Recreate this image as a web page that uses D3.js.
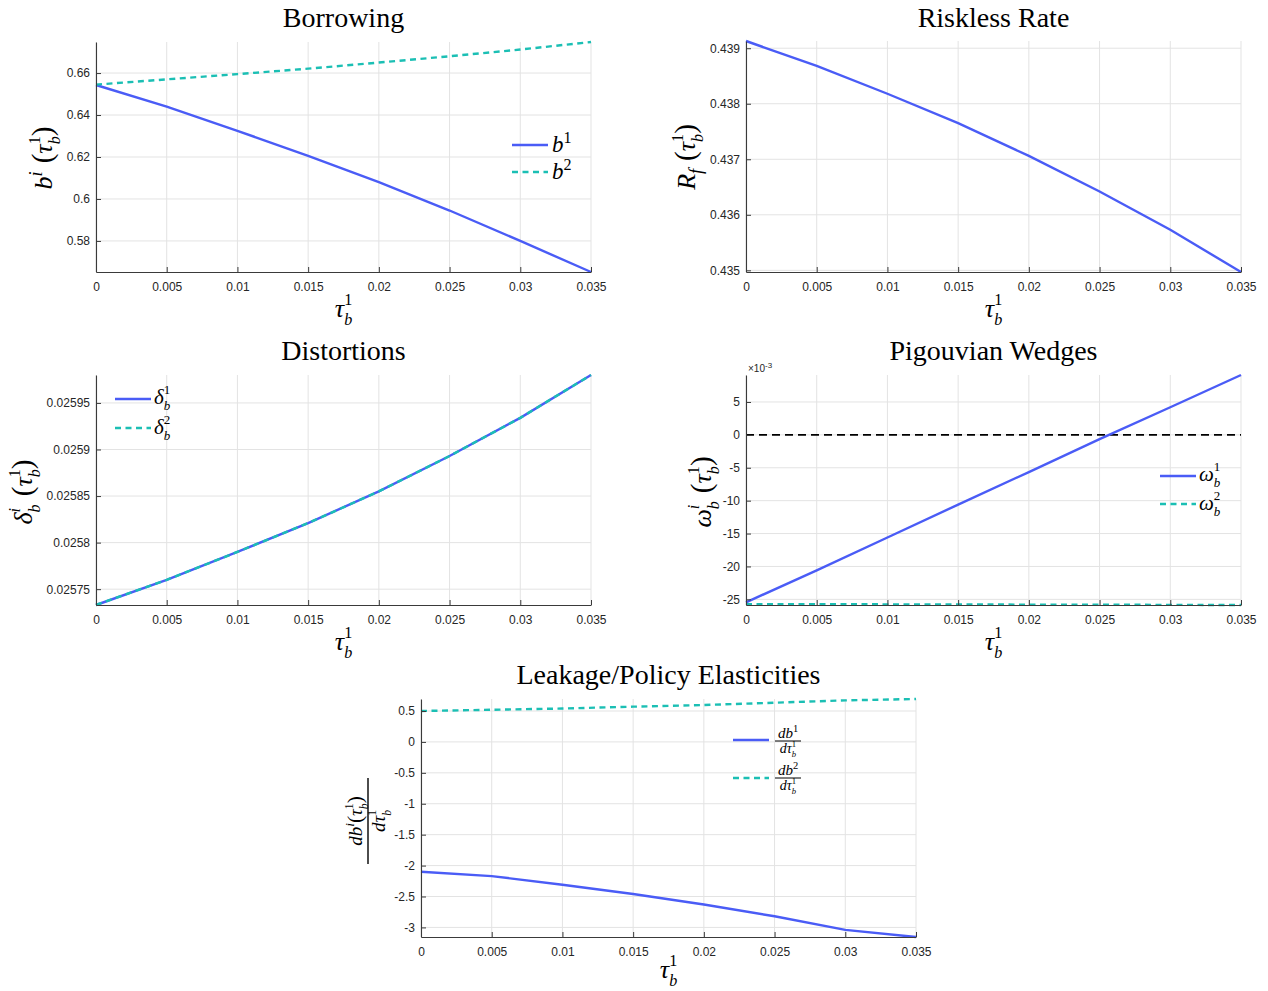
<!DOCTYPE html>
<html><head><meta charset="utf-8">
<script src="https://cdn.jsdelivr.net/npm/d3@7"></script>
<style>
body{margin:0;background:#fff;}
svg{display:block;}
.tick text{font-family:"Liberation Sans",Arial,sans-serif;font-size:12px;fill:#262626;}
</style></head>
<body>
<svg id="chart" width="1268" height="991"></svg>
<script>
// ---------- DATA ----------
const tau = [0, 0.005, 0.01, 0.015, 0.02, 0.025, 0.03, 0.035];
const xTicks = [0, 0.005, 0.01, 0.015, 0.02, 0.025, 0.03, 0.035];

const borrow1 = [0.6543, 0.6440, 0.6325, 0.6205, 0.6080, 0.5945, 0.5800, 0.5652];
const borrow2 = [0.6545, 0.6570, 0.6595, 0.6621, 0.6650, 0.6680, 0.6712, 0.6748];
const borrowTicks = [0.58, 0.6, 0.62, 0.64, 0.66];

const riskless = [0.43913, 0.43868, 0.43818, 0.43765, 0.43706, 0.43642, 0.43573, 0.43497];
const risklessTicks = [0.435, 0.436, 0.437, 0.438, 0.439];

const distort1 = [0.025733, 0.025760, 0.025790, 0.025821, 0.025855, 0.025893, 0.025934, 0.025980];
const distort2 = [0.025733, 0.025760, 0.025790, 0.025821, 0.025855, 0.025893, 0.025934, 0.025980];
const distortTicks = [0.02575, 0.0258, 0.02585, 0.0259, 0.02595];

// Pigouvian wedges, in units of 1e-3
const wedge1 = [-25.45, -20.6, -15.6, -10.6, -5.65, -0.65, 4.2, 9.1];
const wedge2 = [-25.72, -25.74, -25.76, -25.78, -25.80, -25.82, -25.84, -25.86];
const wedgeRef = [0, 0];
const wedgeTicks = [-25, -20, -15, -10, -5, 0, 5];

const elast1 = [-2.10, -2.17, -2.31, -2.46, -2.63, -2.82, -3.04, -3.155];
const elast2 = [0.50, 0.52, 0.54, 0.57, 0.597, 0.634, 0.672, 0.694];
const elastTicks = [-3, -2.5, -2, -1.5, -1, -0.5, 0, 0.5];

// ---------- STYLE ----------
const BLUE = "#4a5cf6", TEAL = "#1bbfb4";
const SERIF = "'Liberation Serif','Times New Roman',serif";
const svg = d3.select("#chart");
const fmt = v => String(+v.toPrecision(6));

// math text helper
function mathText(parent, items, size, anchor) {
  const g = parent.append("g").attr("font-family", SERIF).attr("fill", "#000");
  let cx = 0;
  items.forEach(it => {
    const sz = size * (it.scale || 1);
    const t = g.append("text").attr("x", cx).attr("y", it.dy || 0)
      .attr("font-size", sz).attr("font-style", it.up ? "normal" : "italic").text(it.t);
    cx += t.node().getComputedTextLength() + (it.kern || 0);
    const stacked = it.sub && it.sup;
    const ss = stacked ? 0.62 : 0.7;
    let sw = 0;
    if (it.sub) {
      const s = g.append("text").attr("x", cx).attr("y", (stacked ? 0.3 : 0.25) * size)
        .attr("font-size", ss * size).attr("font-style", it.subUp ? "normal" : "italic").text(it.sub);
      sw = Math.max(sw, s.node().getComputedTextLength());
    }
    if (it.sup) {
      const s = g.append("text").attr("x", cx).attr("y", (stacked ? -0.46 : -0.4) * size)
        .attr("font-size", ss * size).attr("font-style", it.supUp ? "normal" : "italic").text(it.sup);
      sw = Math.max(sw, s.node().getComputedTextLength());
    }
    cx += sw + (it.gap || 0);
  });
  if (anchor === "middle") g.selectAll("text").attr("x", function () { return +d3.select(this).attr("x") - cx / 2; });
  return { g, width: cx };
}
const tauItem = () => ({ t: "τ", sub: "b", sup: "1", supUp: true });

function place(parent, x, y, rot) {
  return parent.append("g").attr("transform", `translate(${x},${y})` + (rot ? ` rotate(${rot})` : ""));
}

function panel(cfg) {
  const { L, R, T, B } = cfg.box;
  const x = d3.scaleLinear().domain(d3.extent(tau)).range([L, R]);
  const y = d3.scaleLinear().domain(cfg.yDomain).range([B, T]);
  const g = svg.append("g");
  g.append("g").selectAll("line").data(xTicks).join("line")
    .attr("x1", d => x(d)).attr("x2", d => x(d)).attr("y1", T).attr("y2", B)
    .attr("stroke", "#e3e3e3").attr("stroke-width", 1);
  g.append("g").selectAll("line").data(cfg.yTicks).join("line")
    .attr("x1", L).attr("x2", R).attr("y1", d => y(d)).attr("y2", d => y(d))
    .attr("stroke", "#e3e3e3").attr("stroke-width", 1);
  cfg.series.forEach(s => {
    const xs = s.x || tau;
    g.append("path").datum(s.values)
      .attr("d", d3.line().x((d, i) => x(xs[i])).y(d => y(d)))
      .attr("fill", "none").attr("stroke", s.color).attr("stroke-width", s.w || 2.4)
      .attr("stroke-dasharray", s.dash || null);
  });
  const ax = g.append("g").attr("transform", `translate(0,${B})`)
    .call(d3.axisBottom(x).tickValues(xTicks).tickFormat(fmt).tickSizeInner(-5).tickSizeOuter(0).tickPadding(10));
  const ay = g.append("g").attr("transform", `translate(${L},0)`)
    .call(d3.axisLeft(y).tickValues(cfg.yTicks).tickFormat(fmt).tickSizeInner(-5).tickSizeOuter(0).tickPadding(6));
  [ax, ay].forEach(a => { a.select(".domain").attr("stroke", "#3a3a3a").attr("stroke-width", 1.1);
    a.selectAll(".tick line").attr("stroke", "#3a3a3a"); a.selectAll(".tick text").attr("fill", "#262626"); });
  g.append("text").attr("x", (L + R) / 2).attr("y", cfg.titleY).attr("text-anchor", "middle")
    .attr("font-family", SERIF).attr("font-size", 28).text(cfg.title);
  mathText(place(g, (L + R) / 2, B + (cfg.xlabOff || 45)), [tauItem()], 26, "middle");
  return { g, x, y };
}

const yLabSize = 26;
const paren = c => ({ t: c, up: true, scale: 1.12 });

// ---- Panel 1: Borrowing
panel({ box: { L: 96, R: 591, T: 42, B: 272 }, title: "Borrowing", titleY: 27,
  yDomain: d3.extent(borrow1.concat(borrow2)), yTicks: borrowTicks,
  series: [{ values: borrow1, color: BLUE }, { values: borrow2, color: TEAL, dash: "6,4.5" }] });
mathText(place(svg, 52, 158, -90), [{ t: "b", sup: "i", gap: 8 }, paren("("), tauItem(), paren(")")], yLabSize, "middle");
function legendEntry(x, y, color, dash) {
  svg.append("line").attr("x1", x).attr("x2", x + 36).attr("y1", y).attr("y2", y)
    .attr("stroke", color).attr("stroke-width", 2.4).attr("stroke-dasharray", dash || null);
}
legendEntry(512, 145, BLUE); legendEntry(512, 172, TEAL, "6,4.5");
mathText(place(svg, 552, 152), [{ t: "b", sup: "1", supUp: true }], 23);
mathText(place(svg, 552, 179), [{ t: "b", sup: "2", supUp: true }], 23);

// ---- Panel 2: Riskless Rate
panel({ box: { L: 746, R: 1241, T: 41, B: 272 }, title: "Riskless Rate", titleY: 27,
  yDomain: d3.extent(riskless), yTicks: risklessTicks,
  series: [{ values: riskless, color: BLUE }] });
mathText(place(svg, 695, 157, -90), [{ t: "R", sub: "f", gap: 8 }, paren("("), tauItem(), paren(")")], yLabSize, "middle");

// ---- Panel 3: Distortions
panel({ box: { L: 96, R: 591, T: 375, B: 605 }, title: "Distortions", titleY: 360,
  yDomain: d3.extent(distort1.concat(distort2)), yTicks: distortTicks,
  series: [{ values: distort1, color: BLUE }, { values: distort2, color: TEAL, dash: "6,4.5" }] });
mathText(place(svg, 32, 492, -90), [{ t: "δ", sub: "b", sup: "i", gap: 8 }, paren("("), tauItem(), paren(")")], yLabSize, "middle");
legendEntry(115, 399, BLUE); legendEntry(115, 428, TEAL, "6,4.5");
mathText(place(svg, 154, 404), [{ t: "δ", sub: "b", sup: "1", supUp: true }], 21);
mathText(place(svg, 154, 434), [{ t: "δ", sub: "b", sup: "2", supUp: true }], 21);

// ---- Panel 4: Pigouvian Wedges
panel({ box: { L: 746, R: 1241, T: 375, B: 605 }, title: "Pigouvian Wedges", titleY: 360,
  yDomain: d3.extent(wedge1.concat(wedge2)), yTicks: wedgeTicks,
  series: [{ values: wedgeRef, x: [tau[0], tau[tau.length - 1]], color: "#000", w: 1.6, dash: "8,5" },
           { values: wedge1, color: BLUE }, { values: wedge2, color: TEAL, dash: "6,4.5" }] });
const ex = svg.append("text").attr("x", 748).attr("y", 372).attr("font-family", "'Liberation Sans',Arial,sans-serif")
  .attr("font-size", 10).attr("fill", "#262626");
ex.append("tspan").text("×10");
ex.append("tspan").attr("dy", -4).attr("font-size", 8).text("-3");
mathText(place(svg, 711, 492, -90), [{ t: "ω", sub: "b", sup: "i", gap: 8 }, paren("("), tauItem(), paren(")")], yLabSize, "middle");
legendEntry(1160, 476, BLUE); legendEntry(1160, 504, TEAL, "6,4.5");
mathText(place(svg, 1199, 481), [{ t: "ω", sub: "b", sup: "1", supUp: true }], 21);
mathText(place(svg, 1199, 510), [{ t: "ω", sub: "b", sup: "2", supUp: true }], 21);

// ---- Panel 5: Leakage/Policy Elasticities
panel({ box: { L: 421, R: 916, T: 699, B: 937 }, title: "Leakage/Policy Elasticities", titleY: 684, xlabOff: 41,
  yDomain: d3.extent(elast1.concat(elast2)), yTicks: elastTicks,
  series: [{ values: elast1, color: BLUE }, { values: elast2, color: TEAL, dash: "6,4.5" }] });
{
  const gl = place(svg, 368, 821, -90);
  mathText(place(gl, 0, -6), [{ t: "d" }, { t: "b", sup: "i" }, paren("("), tauItem(), paren(")")], 19, "middle");
  gl.append("line").attr("x1", -43).attr("x2", 43).attr("y1", 0).attr("y2", 0).attr("stroke", "#000").attr("stroke-width", 1.4);
  mathText(place(gl, 0, 17), [{ t: "d" }, tauItem()], 19, "middle");
}
legendEntry(733, 740, BLUE); legendEntry(733, 778, TEAL, "6,4.5");
function legFrac(cx, by, sup) {
  mathText(place(svg, cx, by - 3), [{ t: "d" }, { t: "b", sup: sup, supUp: true }], 15, "middle");
  svg.append("line").attr("x1", cx - 13).attr("x2", cx + 13).attr("y1", by).attr("y2", by).attr("stroke", "#000").attr("stroke-width", 1);
  mathText(place(svg, cx, by + 12), [{ t: "d" }, tauItem()], 14, "middle");
}
legFrac(788, 741, "1");
legFrac(788, 778, "2");
</script>
</body></html>
